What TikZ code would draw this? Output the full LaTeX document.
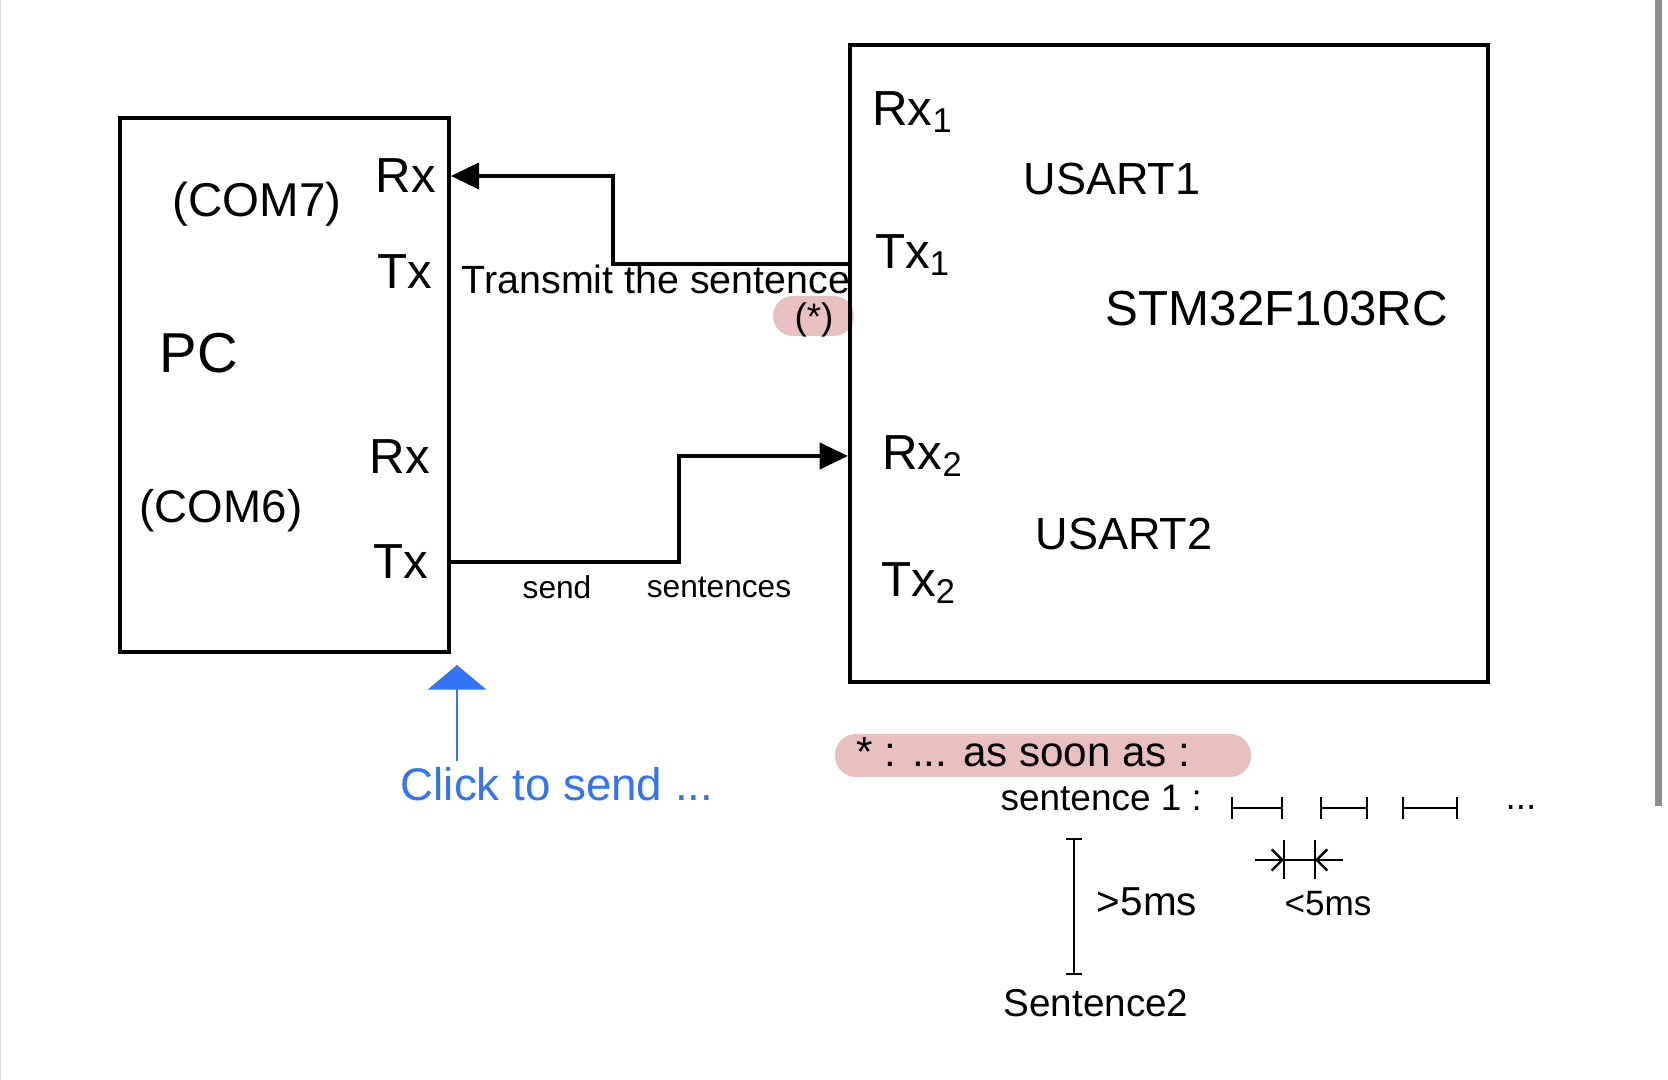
\documentclass[tikz,border=0pt]{standalone}
\usepackage{fontspec}
\setmainfont{Liberation Sans}
\usetikzlibrary{arrows.meta,positioning}
\definecolor{markpink}{RGB}{233,192,192}
\definecolor{penblue}{RGB}{50,116,245}

\begin{document}
\begin{tikzpicture}[x=0.01cm, y=-0.01cm,
        box/.style={draw, line width=1.1pt, inner sep=0pt},
        lbl/.style={font=\fontsize{14}{16}\selectfont, inner sep=0pt},
        note/.style={font=\fontsize{10.5}{12}\selectfont, inner sep=0pt},
        wire/.style={line width=0.9pt, -{Triangle[length=8pt,width=7.5pt]}},
        gap/.style={line width=0.7pt, {Bar[width=6pt]}-{Bar[width=6pt]}}]

    \fill[white] (0,0) rectangle (1668,1080);
    \useasboundingbox (0,0) rectangle (1668,1080);
    \draw[black!15] (0.5,0) -- (0.5,1080);
    \fill[black!45] (1655,0) rectangle (1662,806);

    % highlights
    \fill[markpink, rounded corners=0.2cm] (773,296) rectangle (854,336);
    \fill[markpink, rounded corners=0.21cm] (835,734) rectangle (1251,777);

    % boxes
    \node[box, minimum width=3.29cm, minimum height=5.34cm] (pc) at (284.5,385) {};
    \node[box, minimum width=6.38cm, minimum height=6.37cm] (stm) at (1169,363.5) {};

    % PC side
    \node[lbl, font=\fontsize{13.5}{16}\selectfont] (com7) at (257,204) {(COM7)};
    \node[font=\fontsize{16}{18}\selectfont, inner sep=0pt] (pcname) at (199,353) {PC};
    \node[lbl, font=\fontsize{13}{16}\selectfont] (com6) at (221,511) {(COM6)};
    \node[lbl] (pcrx1) at (406,176) {Rx};
    \node[lbl] (pctx1) at (405,272) {Tx};
    \node[lbl] (pcrx2) at (400,457) {Rx};
    \node[lbl] (pctx2) at (401,562) {Tx};

    % STM32 side
    \node[lbl] (rx1) at (913,112) {Rx\textsubscript{1}};
    \node[lbl] (tx1) at (913,255) {Tx\textsubscript{1}};
    \node[lbl] (rx2) at (923,456) {Rx\textsubscript{2}};
    \node[lbl] (tx2) at (919,583) {Tx\textsubscript{2}};
    \node[lbl, font=\fontsize{12.8}{15}\selectfont] (usart1) at (1112,179) {USART1};
    \node[lbl, font=\fontsize{12.8}{15}\selectfont] (usart2) at (1124,534) {USART2};
    \node[lbl] (mcu) at (1277,309) {STM32F103RC};

    % wires
    \coordinate (bend1) at (613,264);
    \coordinate (bend2) at (679,562);
    \draw[wire] (stm.west |- bend1) -- (bend1) |- (pc.east |- pcrx1);
    \draw[wire] (pc.east |- pctx2) -- (bend2) |- (stm.west |- rx2);

    \node[note, font=\fontsize{11.2}{13}\selectfont] (txnote) at (656,279) {Transmit the sentence};
    \node[note] (star) at (814,320) {(*)};
    \node[font=\fontsize{9}{11}\selectfont, inner sep=0pt] (send) at (557,587) {send};
    \node[font=\fontsize{9}{11}\selectfont, inner sep=0pt] (sents) at (719,587) {sentences};

    % click
    \node[font=\fontsize{13}{15}\selectfont, text=penblue, inner sep=0pt] (click) at (557,784) {Click to send ...};
    \coordinate (clickfrom) at (457,761);
    \coordinate (clickto) at (457,665);
    \draw[penblue, line width=0.85pt, -{Triangle[length=7pt,width=16.5pt]}] (clickfrom) -- (clickto);

    % timing note
    \node[font=\fontsize{12}{14}\selectfont, inner sep=0pt, anchor=west] (soon) at (856,752) {* : ... as soon as :};
    \node[note, anchor=west] (sent1) at (1000,798) {sentence 1 :};
    \foreach \a/\b in {1231/1283, 1320/1368, 1402/1458}
        \draw[gap] (\a,808) -- (\b,808);
    \node[note] (more) at (1521,808) {...};

    \draw[gap, {Bar[width=4.5pt]}-{Bar[width=4.5pt]}] (1074,838) -- (1074,975);
    \node[font=\fontsize{11.5}{13}\selectfont, inner sep=0pt] (gt) at (1147,902) {>5ms};
    \node[font=\fontsize{11}{13}\selectfont, inner sep=0pt] (sent2) at (1096,1003) {Sentence2};

    \draw[line width=0.7pt] (1284,840) -- (1284,879);
    \draw[line width=0.7pt] (1315,840) -- (1315,879);
    \draw[line width=0.7pt, -{Straight Barb[length=3pt]}] (1255,860) -- (1284,860);
    \draw[line width=0.7pt, -{Straight Barb[length=3pt]}] (1343,860) -- (1315,860);
    \draw[line width=0.7pt] (1284,860) -- (1315,860);
    \node[font=\fontsize{10}{12}\selectfont, inner sep=0pt] (lt) at (1328,904) {<5ms};
\end{tikzpicture}
\end{document}
